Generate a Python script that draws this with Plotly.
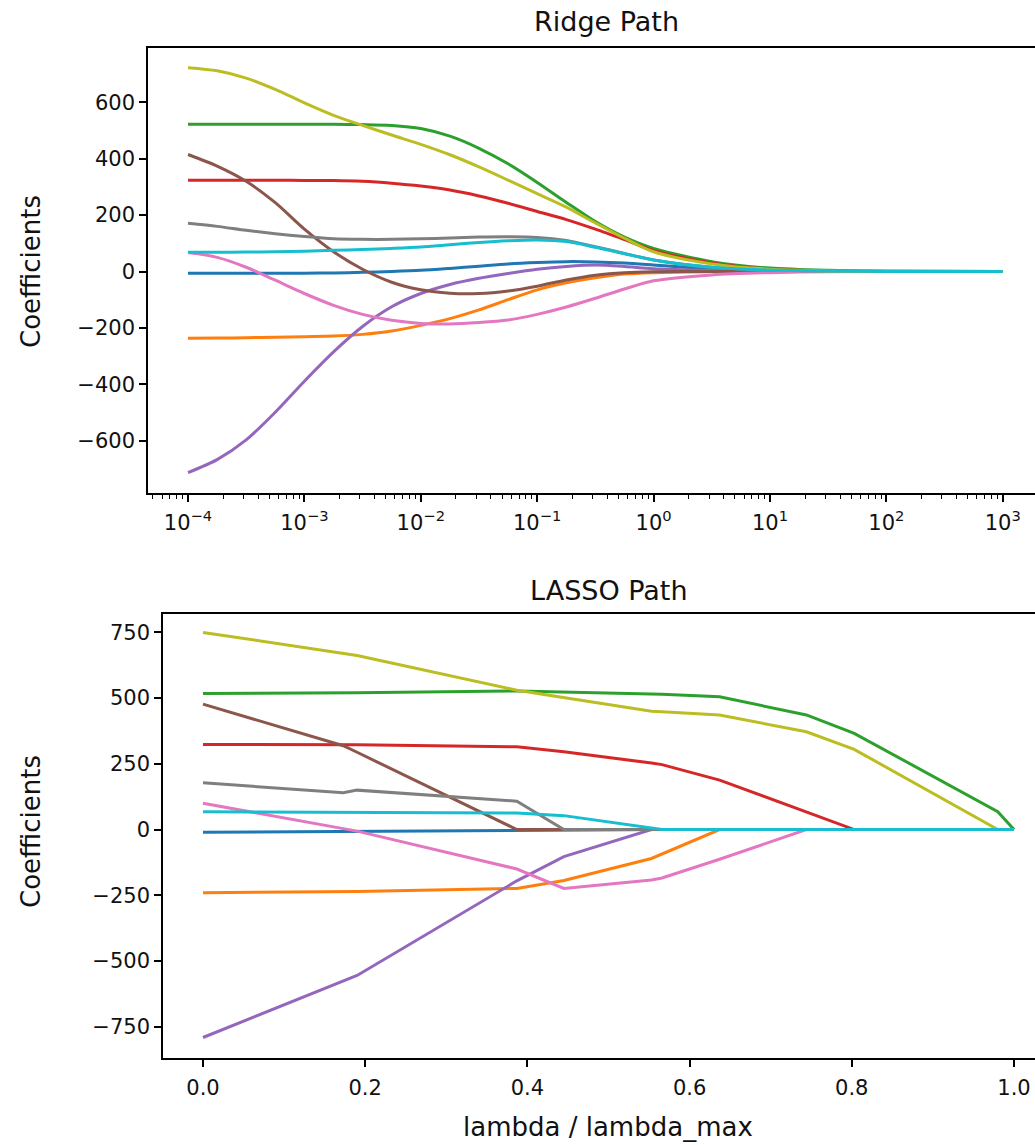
import plotly.graph_objects as go

# ---------------- data ----------------
features = ["age", "sex", "bmi", "bp", "s1", "s2", "s3", "s4", "s5", "s6"]
colors = ["#1f77b4", "#ff7f0e", "#2ca02c", "#d62728", "#9467bd",
          "#8c564b", "#e377c2", "#7f7f7f", "#bcbd22", "#17becf"]

# ridge: penalty values (log-spaced) and coefficient paths
ridge_lambda = [0.0001, 0.000178, 0.000316, 0.000562, 0.001, 0.00178, 0.00316, 0.00562,
                0.01, 0.0178, 0.0316, 0.0562, 0.1, 0.178, 0.316, 0.562, 1.0,
                3.16, 10.0, 31.6, 100.0, 1000.0]
ridge_age = [-6, -6, -6, -6, -6, -5, -3, 0, 4, 11, 19, 27, 32, 35, 34, 30, 23,
             8, 2, 0.5, 0, 0]
ridge_sex = [-237, -236, -235, -233, -231, -229, -223, -211, -191, -167, -136, -100, -65,
             -40, -22, -9, -4, -1, 0, 0, 0, 0]
ridge_bmi = [522, 522, 522, 522, 522, 522, 521, 518, 507, 480, 437, 382, 316, 245, 177, 122,
             82, 35, 12, 4, 1, 0]
ridge_bp = [324, 324, 324, 324, 323, 323, 320, 313, 303, 289, 268, 242, 213, 184, 150, 113,
            75, 30, 8, 2, 0.5, 0]
ridge_s1 = [-713, -667, -597, -499, -389, -285, -195, -125, -78, -46, -24, -7, 8, 18, 23,
            18, 10, 4, 1, 0, 0, 0]
ridge_s2 = [415, 374, 320, 244, 150, 70, 8, -38, -65, -77, -78, -69, -52, -30, -13, -4, -1,
            0, 0, 0, 0, 0]
ridge_s3 = [67, 50, 15, -31, -78, -120, -152, -173, -184, -186, -181, -172, -152, -126, -95,
            -62, -33, -12, -4, -1, 0, 0]
ridge_s4 = [171, 160, 146, 134, 124, 116, 114, 114, 116, 119, 122, 123, 121, 110, 88, 64, 41,
            15, 5, 1.5, 0.3, 0]
ridge_s5 = [723, 712, 686, 646, 598, 554, 518, 484, 451, 414, 371, 324, 276, 228, 172, 118,
            70, 27, 8, 2, 0.5, 0]
ridge_s6 = [68, 68, 69, 70, 72, 75, 78, 82, 87, 95, 103, 109, 112, 106, 86, 63, 41, 15, 5,
            1.5, 0.3, 0]

# lasso: lambda / lambda_max breakpoints and coefficient paths
lasso_x = [0.0, 0.173, 0.19, 0.387, 0.445, 0.553, 0.566, 0.637, 0.744, 0.803, 0.98, 1.0]
lasso_age = [-10, -7, -6, -1, 0, 0, 0, 0, 0, 0, 0, 0]
lasso_sex = [-240, -237, -236, -224, -194, -110, -93, 0, 0, 0, 0, 0]
lasso_bmi = [518, 520, 520, 527, 524, 516, 515, 505, 436, 366, 68, 0]
lasso_bp = [324, 323, 323, 315, 296, 253, 247, 188, 67, 0, 0, 0]
lasso_s1 = [-791, -575, -555, -195, -103, 0, 0, 0, 0, 0, 0, 0]
lasso_s2 = [477, 319, 294, 0, 0, 0, 0, 0, 0, 0, 0, 0]
lasso_s3 = [100, 4, -6, -150, -224, -192, -184, -113, 0, 0, 0, 0]
lasso_s4 = [178, 140, 150, 108, 0, 0, 0, 0, 0, 0, 0, 0]
lasso_s5 = [750, 670, 662, 530, 503, 450, 448, 436, 372, 305, 0, 0]
lasso_s6 = [68, 67, 67, 63, 53, 6, 0, 0, 0, 0, 0, 0]

ridge_ticks = [0.0001, 0.001, 0.01, 0.1, 1, 10, 100, 1000]
ridge_ticktext = ["10<sup>−4</sup>", "10<sup>−3</sup>", "10<sup>−2</sup>", "10<sup>−1</sup>",
                  "10<sup>0</sup>", "10<sup>1</sup>", "10<sup>2</sup>", "10<sup>3</sup>"]
ridge_yticks = [-600, -400, -200, 0, 200, 400, 600]
lasso_xticks = [0.0, 0.2, 0.4, 0.6, 0.8, 1.0]
lasso_yticks = [-750, -500, -250, 0, 250, 500, 750]

ridge_series = [ridge_age, ridge_sex, ridge_bmi, ridge_bp, ridge_s1,
                ridge_s2, ridge_s3, ridge_s4, ridge_s5, ridge_s6]
lasso_series = [lasso_age, lasso_sex, lasso_bmi, lasso_bp, lasso_s1,
                lasso_s2, lasso_s3, lasso_s4, lasso_s5, lasso_s6]

# ---------------- figure ----------------
W, H = 1035, 1145
FONT = "DejaVu Sans"
TXT = "#111111"
fig = go.Figure()

for name, col, ys in zip(features, colors, ridge_series):
    fig.add_trace(go.Scatter(x=ridge_lambda, y=ys, mode="lines", name=name,
                             line=dict(color=col, width=3, shape="spline", smoothing=0.8),
                             xaxis="x", yaxis="y", showlegend=False))
for name, col, ys in zip(features, colors, lasso_series):
    fig.add_trace(go.Scatter(x=lasso_x, y=ys, mode="lines", name=name,
                             line=dict(color=col, width=3),
                             xaxis="x2", yaxis="y2", showlegend=False))


def px_x(p):
    return p / W


def px_y(p):
    return 1 - p / H


axis_common = dict(showgrid=False, zeroline=False, showline=True, linecolor="black",
                   linewidth=1.5, ticks="outside", ticklen=7, tickwidth=1.5,
                   tickcolor="black", tickfont=dict(family=FONT, size=21, color=TXT))

minor_vals = [m * 10 ** e for e in range(-5, 4) for m in range(2, 10)]


def minus(v):
    return str(v).replace("-", "−")


fig.update_layout(
    width=W, height=H, margin=dict(l=0, r=0, t=0, b=0),
    paper_bgcolor="white", plot_bgcolor="white",
    font=dict(family=FONT, color=TXT),
    xaxis=dict(axis_common, type="log", domain=[px_x(148), 1.0],
               range=[-4.3436, 3.2766], anchor="y", mirror=True,
               tickvals=ridge_ticks, ticktext=ridge_ticktext, ticklabelstandoff=3,
               minor=dict(ticks="outside", ticklen=4, tickwidth=1.2, tickcolor="black",
                          tickvals=minor_vals, showgrid=False)),
    yaxis=dict(axis_common, domain=[px_y(493), px_y(48)], range=[-785.5, 792.6],
               anchor="x", tickvals=ridge_yticks, ticktext=[minus(v) for v in ridge_yticks]),
    xaxis2=dict(axis_common, domain=[px_x(163), 1.0], range=[-0.0493, 1.0259],
                anchor="y2", mirror=True, tickvals=lasso_xticks, ticklabelstandoff=3,
                ticktext=[f"{v:.1f}" for v in lasso_xticks]),
    yaxis2=dict(axis_common, domain=[px_y(1058), px_y(614)], range=[-869, 820],
                anchor="x2", tickvals=lasso_yticks,
                ticktext=[minus(v) for v in lasso_yticks]),
)

annots = [
    ("Ridge Path", 606, 22, 27, 0),
    ("LASSO Path", 609, 590, 27, 0),
    ("Coefficients", 31, 272, 26, -90),
    ("Coefficients", 31, 832, 26, -90),
    ("lambda / lambda_max", 608, 1127, 26, 0),
]
for text, ax, ay, size, ang in annots:
    fig.add_annotation(xref="paper", yref="paper", showarrow=False,
                       xanchor="center", yanchor="middle",
                       font=dict(family=FONT, color=TXT, size=size),
                       text=text, x=px_x(ax), y=px_y(ay), textangle=ang)

fig.write_html("out.html")
